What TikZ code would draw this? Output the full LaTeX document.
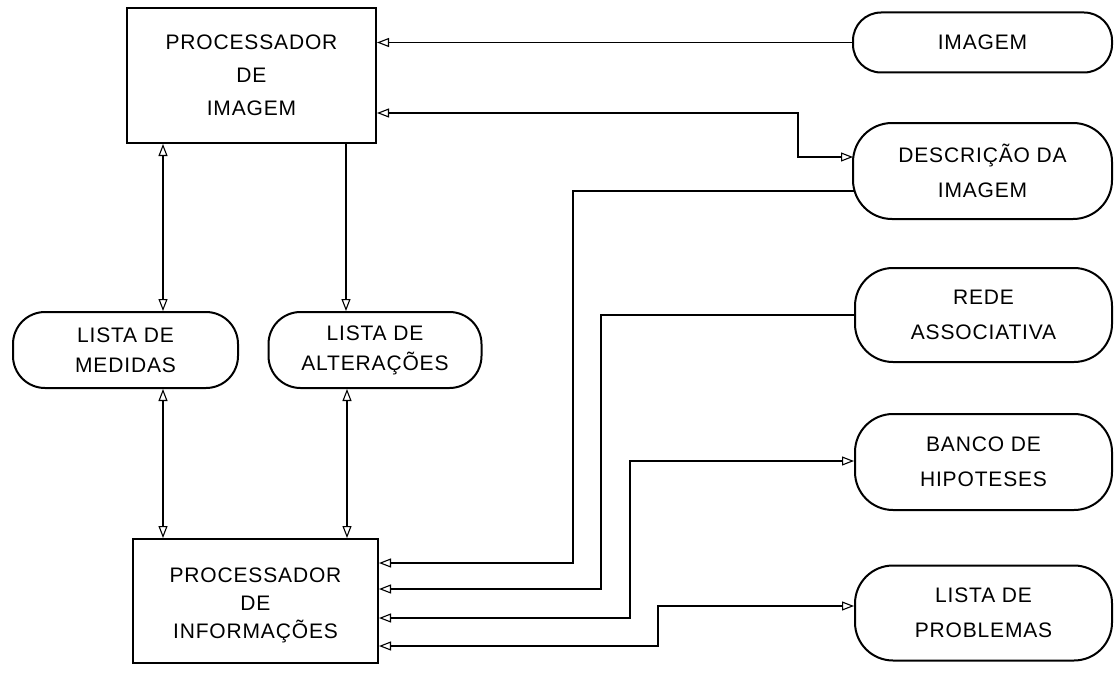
\documentclass[tikz,border=0pt]{standalone}
\usepackage{fontspec}
\setmainfont{Liberation Sans}[LetterSpace=4]
\usetikzlibrary{arrows.meta,calc}
\begin{document}
\begin{tikzpicture}[x=1pt,y=-1pt,
  box/.style={draw,line width=2pt,inner sep=0pt,align=center},
  pill/.style={draw,rectangle,rounded corners=#1,line width=2pt,inner sep=0pt,align=center,font=\fontsize{21}{35}\selectfont},
  tip/.tip={Triangle[open,length=12pt,width=9pt,line width=1.1pt]},
  conn/.style={line width=1.3pt},
  arr/.style={conn,-tip},
  barr/.style={conn,tip-tip}]
\useasboundingbox (0,0) rectangle (1115,674);
% boxes
\node[box,minimum width=249pt,minimum height=135pt,font=\fontsize{21}{33}\selectfont] (pi) at (251.5,75.5) {PROCESSADOR\\DE\\IMAGEM};
\node[box,minimum width=245pt,minimum height=124pt] (pinf) at (255.5,601) {};
\node[align=center,inner sep=0pt,font=\fontsize{21}{28}\selectfont] (pinftext) at ($(pinf.center)+(0,4)$) {PROCESSADOR\\DE\\INFORMAÇÕES};
% pills
\node[pill=28pt,minimum width=259pt,minimum height=60pt] (imagem) at (982.5,42.5) {IMAGEM};
\node[pill=39pt,minimum width=259pt,minimum height=96pt] (desc) at (982.5,171) {DESCRIÇÃO DA\\IMAGEM};
\node[pill=38pt,minimum width=257pt,minimum height=94pt] (rede) at (983.5,315) {REDE\\ASSOCIATIVA};
\node[pill=38pt,minimum width=257pt,minimum height=96pt] (banco) at (983.5,462) {BANCO DE\\HIPOTESES};
\node[pill=38pt,minimum width=257pt,minimum height=95pt] (prob) at (983.5,613) {LISTA DE\\PROBLEMAS};
\node[pill=32pt,minimum width=225pt,minimum height=76pt,font=\fontsize{21}{30}\selectfont] (med) at (125.5,350) {LISTA DE\\MEDIDAS};
\node[pill=32pt,minimum width=213pt,minimum height=76pt,font=\fontsize{21}{30}\selectfont] (alt) at (375,350) {LISTA DE\\ALTERAÇÕES};
% vertical connectors
\draw[barr] (pi.south -| 163,0) -- (med.north -| 163,0);
\draw[arr] (pi.south -| 346,0) -- (alt.north -| 346,0);
\draw[barr] (med.south -| 163,0) -- (pinf.north -| 163,0);
\draw[barr] (alt.south -| 347,0) -- (pinf.north -| 347,0);
% horizontal connectors
\draw[arr] (imagem.west) -- (pi.east |- imagem.west);
\draw[barr] (pi.east |- 0,113) -| (798,157) -- ([xshift=1pt]desc.west |- 0,157);
\draw[arr] ([xshift=3pt]desc.west |- 0,191) -| (573,563) -- (pinf.east |- 0,563);
\draw[arr] (rede.west) -| (601,589) -- (pinf.east |- 0,589);
\draw[barr] (pinf.east |- 0,618) -| (630,461) -- (banco.west |- 0,461);
\draw[barr] (pinf.east |- 0,646) -| (658,606) -- (prob.west |- 0,606);
\end{tikzpicture}
\end{document}
